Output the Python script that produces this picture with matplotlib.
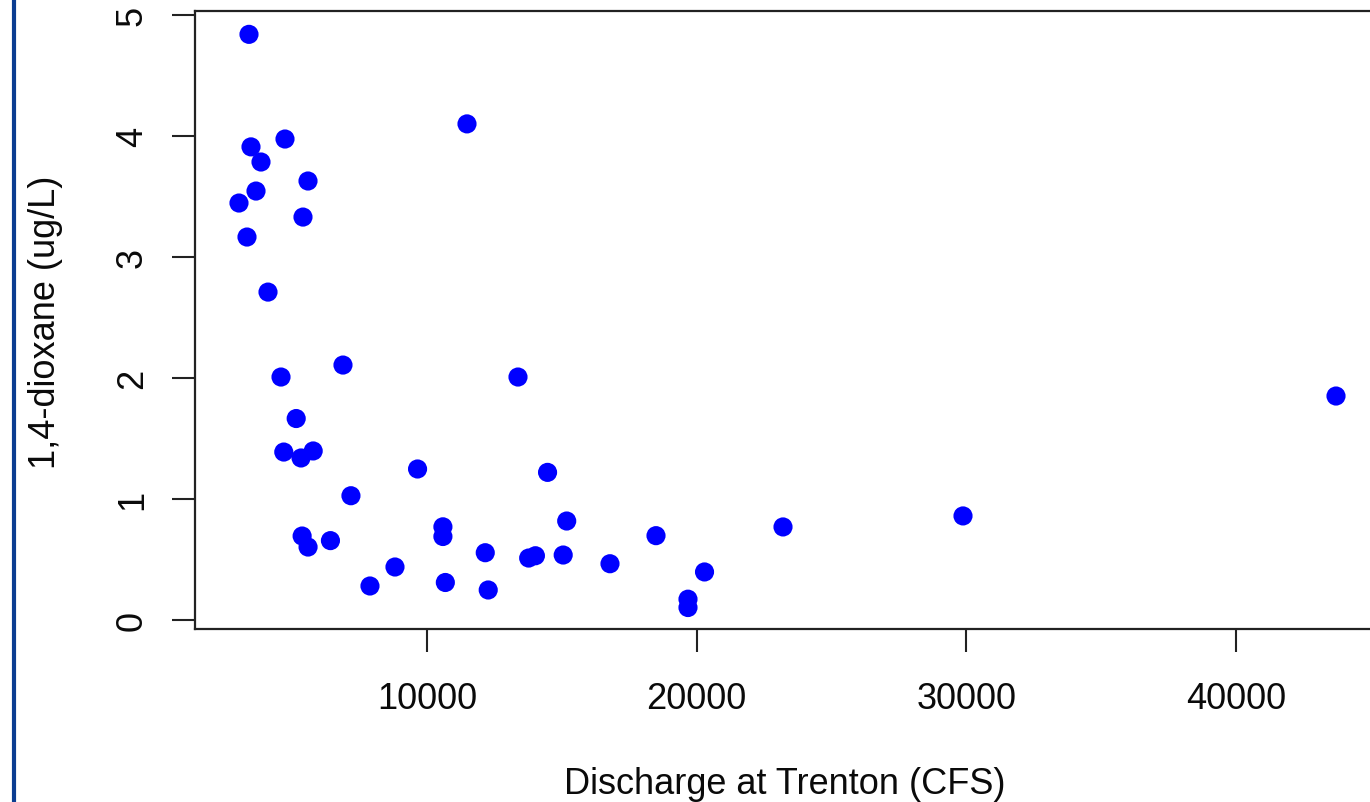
import matplotlib
matplotlib.use("Agg")
import matplotlib.pyplot as plt
from matplotlib.lines import Line2D

# Data: discharge at Trenton (CFS) vs 1,4-dioxane (ug/L)
discharge = [3400, 3474, 3845, 4735, 3029, 3660, 5588, 5402, 3326, 4105,
             11483, 4587, 6885, 13374, 5150, 4690, 5330, 5780, 43704, 29874,
             23200, 18491, 9650, 14470, 15180, 7180, 10590, 10590, 5370, 5590,
             6420, 12160, 13770, 14020, 15050, 16785, 20290, 8813, 7886, 10680,
             12270, 19677, 19677]
dioxane = [4.84, 3.91, 3.785, 3.975, 3.446, 3.545, 3.628, 3.33, 3.165, 2.71,
           4.10, 2.008, 2.107, 2.008, 1.665, 1.388, 1.339, 1.397, 1.851, 0.86,
           0.769, 0.697, 1.248, 1.22, 0.818, 1.027, 0.77, 0.69, 0.694, 0.603,
           0.656, 0.556, 0.512, 0.531, 0.537, 0.465, 0.397, 0.438, 0.281, 0.31,
           0.248, 0.172, 0.103]
x_ticks = [10000, 20000, 30000, 40000]
y_ticks = [0, 1, 2, 3, 4, 5]

W, H = 1370, 803
fig = plt.figure(figsize=(W / 100, H / 100), dpi=100)
plt.rcParams['font.family'] = ['Liberation Sans', 'DejaVu Sans']

left_px, right_px, top_px, bot_px = 195, 1377, 12, 630
ax = fig.add_axes([left_px / W, 1 - bot_px / H,
                   (right_px - left_px) / W, (bot_px - top_px) / H])

ax.scatter(discharge, dioxane, s=190, color='#0000ff', edgecolors='none',
           zorder=3, clip_on=False)

ax.set_xlim(1398, 45224)
ax.set_ylim(-0.0744, 5.033)

ax.set_xticks(x_ticks)
ax.set_xticklabels([str(v) for v in x_ticks])
ax.set_yticks(y_ticks)
ax.set_yticklabels([str(v) for v in y_ticks], rotation=90, va='center')

txt_color = '#0a0a0a'
ax.tick_params(axis='both', direction='out', length=16.5, width=1.5,
               color='#222222', labelsize=26, labelcolor=txt_color)
ax.tick_params(axis='x', pad=21)
ax.tick_params(axis='y', pad=16)
for sp in ax.spines.values():
    sp.set_linewidth(1.6)
    sp.set_color('#222222')

ax.set_xlabel('Discharge at Trenton (CFS)', fontsize=26, color=txt_color,
              va='top')
ax.xaxis.set_label_coords(0.499, (bot_px - 767) / (bot_px - top_px))
ax.set_ylabel('1,4-dioxane (ug/L)', fontsize=26, color=txt_color,
              va='center')
ax.yaxis.set_label_coords(-(left_px - 45) / (right_px - left_px),
                          (bot_px - 322) / (bot_px - top_px))

# dark blue border line at left edge of the slide
fig.add_artist(Line2D([14 / W, 14 / W], [0, 1], transform=fig.transFigure,
                      color='#0b3d91', linewidth=3))

fig.savefig('out.png', dpi=100)
